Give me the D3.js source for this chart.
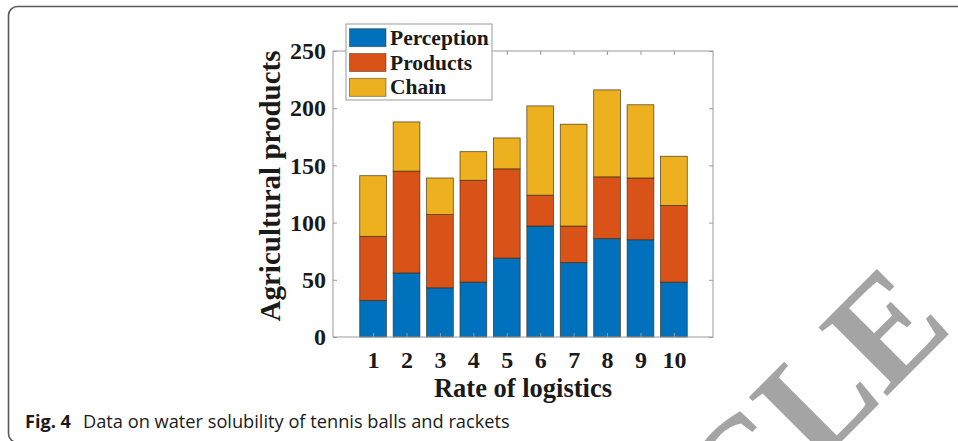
<!DOCTYPE html>
<html>
<head>
<meta charset="utf-8">
<script src="https://cdn.jsdelivr.net/npm/d3@7"></script>
<style>
  html, body { margin: 0; padding: 0; background: #fff; }
  svg { display: block; }
</style>
</head>
<body>
<svg id="chart" width="958" height="441"></svg>
<script>
// ---- data ----
const categories = [1, 2, 3, 4, 5, 6, 7, 8, 9, 10];
const perception = [32, 56, 43, 48, 69, 97, 65, 86, 85, 48];
const products   = [56, 89, 64, 89, 78, 27, 32, 54, 54, 67];
const chain      = [53, 43, 32, 25, 27, 78, 89, 76, 64, 43];
const seriesNames = ["Perception", "Products", "Chain"];
const yTicks = [0, 50, 100, 150, 200, 250];
const xLabel = "Rate of logistics";
const yLabel = "Agricultural products";
const captionBold = "Fig. 4";
const captionText = "Data on water solubility of tennis balls and rackets";
const watermark = "ARTICLE";

// ---- layout ----
const svg = d3.select("#chart");
const plot = { left: 333, right: 713, top: 51, bottom: 337 };
const colors = ["#0072BD", "#D95319", "#EDB120"];
const serif = "'Liberation Serif', 'Times New Roman', serif";
const axisColor = "#9a9a9a";

// frame
svg.append("rect")
  .attr("x", 8.5).attr("y", 6.5)
  .attr("width", 1000).attr("height", 436)
  .attr("rx", 9).attr("ry", 9)
  .attr("fill", "none").attr("stroke", "#5a5a5a").attr("stroke-width", 1.6);

// watermark
svg.append("text")
  .attr("transform", "translate(955,328) rotate(-45)")
  .attr("text-anchor", "end")
  .attr("font-family", serif)
  .attr("font-weight", "bold")
  .attr("font-size", 148)
  .attr("fill", "#a4a4a4")
  .text(watermark);

// scales
const x = d3.scaleLinear().domain([-0.2, 11.17]).range([plot.left, plot.right]);
const y = d3.scaleLinear().domain([0, 250]).range([plot.bottom, plot.top]);
const barW = x(0.8) - x(0);

// stack
const table = categories.map((c, i) => ({
  cat: c, Perception: perception[i], Products: products[i], Chain: chain[i]
}));
const stacked = d3.stack().keys(seriesNames)(table);

const g = svg.append("g");
stacked.forEach((layer, li) => {
  g.selectAll(null).data(layer).enter().append("rect")
    .attr("x", d => x(d.data.cat) - barW / 2)
    .attr("y", d => y(d[1]))
    .attr("width", barW)
    .attr("height", d => y(d[0]) - y(d[1]))
    .attr("fill", colors[li])
    .attr("stroke", "#3a2a10")
    .attr("stroke-opacity", 0.8)
    .attr("stroke-width", 0.8);
});

// axes box
svg.append("rect")
  .attr("x", plot.left).attr("y", plot.top)
  .attr("width", plot.right - plot.left).attr("height", plot.bottom - plot.top)
  .attr("fill", "none").attr("stroke", axisColor).attr("stroke-width", 1);

// axes via d3
const yAxisL = d3.axisLeft(y).tickValues(yTicks).tickSize(-4).tickPadding(7);
const yAxisR = d3.axisRight(y).tickValues(yTicks).tickSize(-4).tickFormat("");
const xAxisB = d3.axisBottom(x).tickValues(categories).tickSize(-4).tickPadding(14);
const xAxisT = d3.axisTop(x).tickValues(categories).tickSize(-4).tickFormat("");

function styleAxis(sel) {
  sel.select(".domain").remove();
  sel.selectAll(".tick line").attr("stroke", axisColor);
  sel.selectAll(".tick text")
    .attr("font-family", serif).attr("font-weight", "bold")
    .attr("font-size", 24).attr("fill", "#1a1a1a");
}
svg.append("g").attr("transform", `translate(${plot.left},0)`).call(yAxisL).call(styleAxis);
svg.append("g").attr("transform", `translate(${plot.right},0)`).call(yAxisR).call(styleAxis);
svg.append("g").attr("transform", `translate(0,${plot.bottom})`).call(xAxisB).call(styleAxis);
svg.append("g").attr("transform", `translate(0,${plot.top})`).call(xAxisT).call(styleAxis);

// axis labels
svg.append("text")
  .attr("x", (plot.left + plot.right) / 2).attr("y", 397)
  .attr("text-anchor", "middle")
  .attr("font-family", serif).attr("font-weight", "bold").attr("font-size", 26.5)
  .attr("fill", "#1a1a1a")
  .text(xLabel);
svg.append("text")
  .attr("transform", `translate(280,186) rotate(-90)`)
  .attr("text-anchor", "middle")
  .attr("font-family", serif).attr("font-weight", "bold").attr("font-size", 29)
  .attr("fill", "#1a1a1a")
  .text(yLabel);

// legend
const leg = svg.append("g");
leg.append("rect")
  .attr("x", 346).attr("y", 24).attr("width", 146).attr("height", 76)
  .attr("fill", "#fff").attr("stroke", axisColor).attr("stroke-width", 1);
seriesNames.forEach((name, i) => {
  const yy = 28.7 + i * 24.8;
  leg.append("rect")
    .attr("x", 349.5).attr("y", yy).attr("width", 36.5).attr("height", 18)
    .attr("fill", colors[i]).attr("stroke", "#3a2a10").attr("stroke-opacity", 0.6).attr("stroke-width", 0.8);
  leg.append("text")
    .attr("x", 390).attr("y", yy + 16)
    .attr("font-family", serif).attr("font-weight", "bold").attr("font-size", 21.5)
    .attr("fill", "#1a1a1a")
    .text(name);
});

// caption
const capSize = 17;
const cap1 = svg.append("text")
  .attr("x", 25).attr("y", 428)
  .attr("font-family", "'Open Sans', 'Noto Sans', sans-serif")
  .attr("font-weight", "bold").attr("font-size", capSize).attr("fill", "#1a1a1a")
  .text(captionBold);
const cap2 = svg.append("text")
  .attr("x", 83).attr("y", 428)
  .attr("font-family", "'Open Sans', 'Noto Sans', sans-serif")
  .attr("font-size", capSize).attr("fill", "#1a1a1a")
  .text(captionText);
// fit the caption to its width in the reference
const w2 = cap2.node().getComputedTextLength();
const s2 = capSize * (510 - 83) / w2;
cap2.attr("font-size", s2);
const w1 = cap1.node().getComputedTextLength();
cap1.attr("font-size", Math.min(capSize * (71 - 25) / w1, s2 * 1.05));
</script>
</body>
</html>
